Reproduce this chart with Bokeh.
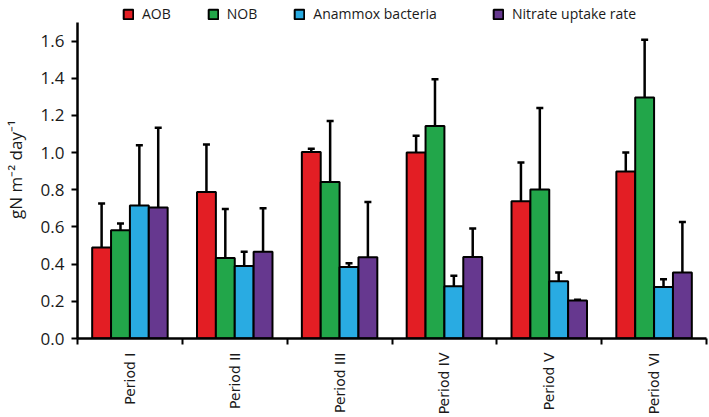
import math
from bokeh.plotting import figure
from bokeh.models import (ColumnDataSource, Whisker, FixedTicker, Legend, LegendItem,
                          Range1d, TeeHead, PrintfTickFormatter)
from bokeh.embed import file_html
from bokeh.resources import INLINE

periods = ["Period I", "Period II", "Period III", "Period IV", "Period V", "Period VI"]

aob = [0.49, 0.788, 1.003, 1.0, 0.738, 0.898]
aob_err = [0.236, 0.255, 0.018, 0.09, 0.208, 0.102]
nob = [0.582, 0.433, 0.842, 1.143, 0.801, 1.296]
nob_err = [0.036, 0.264, 0.328, 0.251, 0.439, 0.311]
anammox = [0.715, 0.39, 0.385, 0.281, 0.308, 0.277]
anammox_err = [0.324, 0.076, 0.02, 0.056, 0.047, 0.042]
nitrate = [0.704, 0.466, 0.437, 0.439, 0.204, 0.355]
nitrate_err = [0.43, 0.234, 0.297, 0.152, 0.004, 0.272]

y_ticks = [0.0, 0.2, 0.4, 0.6, 0.8, 1.0, 1.2, 1.4, 1.6]

series = [
    ("AOB", aob, aob_err, "#E31E24"),
    ("NOB", nob, nob_err, "#22A64A"),
    ("Anammox bacteria", anammox, anammox_err, "#29ABE2"),
    ("Nitrate uptake rate", nitrate, nitrate_err, "#66388F"),
]
offsets = [-0.27, -0.09, 0.09, 0.27]
FONT = "Open Sans"

p = figure(width=709, height=417, x_range=Range1d(0, 6), y_range=Range1d(0, 1.818),
           output_backend="svg", toolbar_location=None,
           min_border_left=75, min_border_right=3, min_border_top=0, min_border_bottom=79)

centers = [i + 0.5 for i in range(len(periods))]
renderers = []
for (name, vals, errs, color), off in zip(series, offsets):
    src = ColumnDataSource(dict(x=[c + off for c in centers], top=vals,
                                upper=[v + e for v, e in zip(vals, errs)]))
    w = Whisker(source=src, base="x", lower="top", upper="upper",
                line_width=2.5, line_color="black", lower_head=None,
                upper_head=TeeHead(size=7, line_width=2.5, line_color="black"))
    p.add_layout(w)
    r = p.vbar(x="x", top="top", width=0.18, source=src, fill_color=color,
               line_color="black", line_width=2)
    renderers.append((name, r))

leg1 = Legend(items=[LegendItem(label=n, renderers=[r]) for n, r in renderers[:3]],
              orientation="horizontal", location=(45, 315))
leg2 = Legend(items=[LegendItem(label=n, renderers=[r]) for n, r in renderers[3:]],
              orientation="horizontal", location=(415, 315))
for lg in (leg1, leg2):
    lg.glyph_width = 12
    lg.glyph_height = 12
    lg.label_standoff = 8
    lg.spacing = 36
    lg.padding = 2
    lg.margin = 0
    lg.border_line_color = None
    lg.background_fill_alpha = 0
    lg.label_text_font = FONT
    lg.label_text_font_size = "14px"
    lg.label_text_color = "#1a1a1a"
    p.add_layout(lg)

# x axis
p.xaxis.ticker = FixedTicker(ticks=centers, minor_ticks=list(range(len(periods) + 1)))
p.xaxis.major_label_overrides = {c: lab for c, lab in zip(centers, periods)}
p.xaxis.major_label_orientation = math.pi / 2
p.xaxis.major_tick_in = 0
p.xaxis.major_tick_out = 0
p.xaxis.minor_tick_in = 0
p.xaxis.minor_tick_out = 6
p.xaxis.minor_tick_line_width = 2
p.xaxis.minor_tick_line_color = "black"
p.xaxis.major_label_standoff = 8
p.xaxis.major_label_text_font = "DejaVu Sans"
p.xaxis.major_label_text_font_size = "14px"
p.xaxis.major_label_text_color = "#1a1a1a"
p.xaxis.axis_line_width = 2.5
p.xaxis.axis_line_color = "black"

# y axis
p.yaxis.ticker = FixedTicker(ticks=y_ticks)
p.yaxis.bounds = (0, 1.7)
p.yaxis.formatter = PrintfTickFormatter(format="%.1f")
p.yaxis.minor_tick_line_color = None
p.yaxis.major_tick_in = 0
p.yaxis.major_tick_out = 6
p.yaxis.major_tick_line_width = 2
p.yaxis.major_label_standoff = 7
p.yaxis.major_label_text_font = FONT
p.yaxis.major_label_text_font_size = "17px"
p.yaxis.major_label_text_color = "#1a1a1a"
p.yaxis.axis_line_width = 2.5
p.yaxis.axis_line_color = "black"
p.yaxis.axis_label = "gN m\u207b\u00b2 day\u207b\u00b9"
p.yaxis.axis_label_text_font = FONT
p.yaxis.axis_label_text_font_size = "17px"
p.yaxis.axis_label_text_font_style = "normal"
p.yaxis.axis_label_text_color = "#1a1a1a"
p.yaxis.axis_label_standoff = 11

p.xgrid.visible = False
p.ygrid.visible = False
p.outline_line_color = None

open("out.html", "w").write(file_html(p, INLINE))
